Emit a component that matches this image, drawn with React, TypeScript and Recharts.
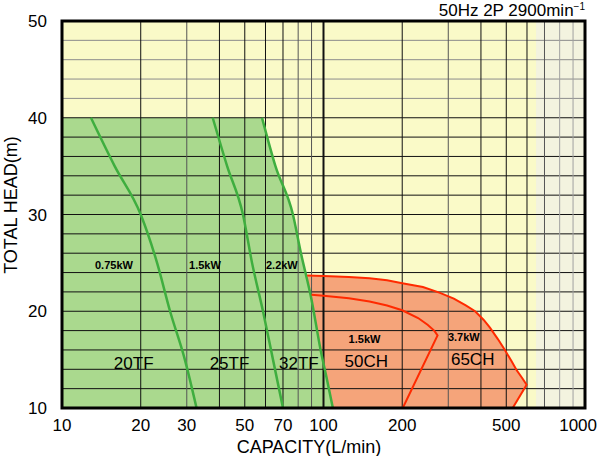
import { ComposedChart, Area, Line, XAxis, YAxis, CartesianGrid, ReferenceLine, ReferenceArea, ReferenceDot } from 'recharts'

const xTicks = [10, 20, 30, 50, 70, 100, 200, 500, 1000]
const yTicks = [10, 20, 30, 40, 50]

// grid lines (log paper)
const vGridDark = [20, 40, 50, 60, 70, 100, 200, 400, 500, 600]
const vGridMid = [30, 80, 90, 300, 700]
const vGridLight = [800, 900]
const hGridLower = [12, 14, 16, 18, 20, 22, 24, 26, 28, 30, 32, 34, 36, 38, 40]
const hGridUpper = [42, 44, 46, 48]

// TF series envelope (green) : top at 40 m, right edge = 32TF curve
const tfEnvelope = [
  { x: 10, y: 40 }, { x: 58.2, y: 40 }, { x: 65.5, y: 35 }, { x: 76.4, y: 30 },
  { x: 82, y: 26 }, { x: 90, y: 21.2 }, { x: 97.5, y: 16 }, { x: 103, y: 13 }, { x: 108.6, y: 10 },
]
const curve20TF = [
  { x: 12.9, y: 40 }, { x: 15.9, y: 35 }, { x: 20, y: 30 }, { x: 23.1, y: 25 },
  { x: 25.9, y: 20 }, { x: 29.5, y: 15 }, { x: 32.7, y: 10 },
]
const curve25TF = [
  { x: 37.7, y: 40 }, { x: 42.8, y: 35 }, { x: 49.2, y: 30 }, { x: 53.3, y: 25 },
  { x: 58.7, y: 20 }, { x: 64.1, y: 15 }, { x: 70, y: 10 },
]
const curve32TF = [
  { x: 58.2, y: 40 }, { x: 65.5, y: 35 }, { x: 76.4, y: 30 }, { x: 82, y: 26 },
  { x: 90, y: 21.2 }, { x: 97.5, y: 16 }, { x: 103, y: 13 }, { x: 108.6, y: 10 },
]

// CH series (orange): outer limit (65CH 3.7kW), inner limit (50CH 1.5kW)
const ch65Outer = [
  { x: 86.6, y: 23.7 }, { x: 100, y: 23.65 }, { x: 125, y: 23.55 }, { x: 150, y: 23.4 },
  { x: 175, y: 23.2 }, { x: 200, y: 22.9 }, { x: 240, y: 22.5 }, { x: 279, y: 21.9 },
  { x: 315, y: 21.3 }, { x: 350, y: 20.6 }, { x: 380, y: 20.0 }, { x: 410, y: 19.1 },
  { x: 433, y: 18.3 }, { x: 465, y: 17.1 }, { x: 494, y: 16.0 }, { x: 522, y: 14.9 },
  { x: 548, y: 13.9 }, { x: 575, y: 13.1 }, { x: 598, y: 12.4 }, { x: 529, y: 10 },
]
const ch50Inner = [
  { x: 90, y: 21.7 }, { x: 100, y: 21.6 }, { x: 125, y: 21.35 }, { x: 150, y: 21.0 },
  { x: 175, y: 20.6 }, { x: 200, y: 20.1 }, { x: 230, y: 19.3 }, { x: 250, y: 18.6 },
  { x: 265, y: 18.0 }, { x: 273, y: 17.5 }, { x: 201, y: 10 },
]

const powerLabels = [
  { x: 15.8, y: 24.8, text: '0.75kW' },
  { x: 35.2, y: 24.8, text: '1.5kW' },
  { x: 69.3, y: 24.8, text: '2.2kW' },
  { x: 143.5, y: 17.1, text: '1.5kW' },
  { x: 344, y: 17.3, text: '3.7kW' },
]
const modelLabels = [
  { x: 18.8, y: 14.7, text: '20TF' },
  { x: 43.7, y: 14.7, text: '25TF' },
  { x: 80.5, y: 14.7, text: '32TF' },
  { x: 145.8, y: 14.9, text: '50CH' },
  { x: 372, y: 15.05, text: '65CH' },
]

const GREEN_FILL = '#aad98e'
const GREEN_LINE = '#3fae3f'
const ORANGE_FILL = '#f5a47a'
const RED_LINE = '#ff2a00'

function XTick({ x, y, payload }: any) {
  const last = payload.value === 1000
  return (
    <text x={last ? x + 13 : x} y={y} dy="0.71em" textAnchor={last ? 'end' : 'middle'} fontSize={17} fill="#000">
      {payload.value}
    </text>
  )
}

export default function App() {
  return (
    <div style={{ position: 'absolute', left: 0, top: 0 }}>
      <ComposedChart width={600} height={456} margin={{ top: 21, right: 15, bottom: 18, left: 0 }}
        style={{ fontFamily: '"Liberation Sans", Arial, sans-serif', background: '#fff' }}>
        <CartesianGrid horizontal={false} vertical={false} fill="#fafac8" />
        <XAxis dataKey="x" type="number" scale="log" domain={[10, 1000]} ticks={xTicks} allowDataOverflow
          tick={<XTick />} tickLine={false} axisLine={false} tickMargin={5} height={30} />
        <YAxis type="number" domain={[10, 50]} ticks={yTicks} width={62} allowDataOverflow
          tick={{ fontSize: 17, fill: '#000' }} tickLine={false} axisLine={false} tickMargin={9} />

        <ReferenceArea x1={650} x2={1000} y1={10} y2={50} fill="#f3f3df" fillOpacity={1} stroke="none" />

        <Area data={ch65Outer} dataKey="y" type="linear" baseValue={10} fill={ORANGE_FILL} fillOpacity={1}
          stroke="none" isAnimationActive={false} />
        <Area data={tfEnvelope} dataKey="y" type="linear" baseValue={10} fill={GREEN_FILL} fillOpacity={1}
          stroke="none" isAnimationActive={false} />

        {hGridUpper.map(v => <ReferenceLine key={'hu' + v} y={v} stroke="#8c8c8c" strokeWidth={1} zIndex={300} />)}
        {hGridLower.map(v => <ReferenceLine key={'hl' + v} y={v} stroke="#111" strokeWidth={1} zIndex={300} />)}
        {vGridLight.map(v => <ReferenceLine key={'vl' + v} x={v} stroke="#a0a0a0" strokeWidth={1} zIndex={300} />)}
        {vGridMid.map(v => <ReferenceLine key={'vm' + v} x={v} stroke="#555" strokeWidth={1} zIndex={300} />)}
        {vGridDark.map(v => <ReferenceLine key={'vd' + v} x={v} stroke="#111" strokeWidth={v === 100 ? 2 : 1} zIndex={300} />)}

        <Line data={curve20TF} dataKey="y" type="monotone" stroke={GREEN_LINE} strokeWidth={2.5} dot={false} isAnimationActive={false} />
        <Line data={curve25TF} dataKey="y" type="monotone" stroke={GREEN_LINE} strokeWidth={2.5} dot={false} isAnimationActive={false} />
        <Line data={curve32TF} dataKey="y" type="monotone" stroke={GREEN_LINE} strokeWidth={2.5} dot={false} isAnimationActive={false} />
        <Line data={ch65Outer} dataKey="y" type="linear" stroke={RED_LINE} strokeWidth={2} dot={false} isAnimationActive={false} />
        <Line data={ch50Inner} dataKey="y" type="linear" stroke={RED_LINE} strokeWidth={2} dot={false} isAnimationActive={false} />

        <ReferenceArea x1={10} x2={1000} y1={10} y2={50} fill="none" stroke="#000" strokeWidth={3} zIndex={450} />

        {powerLabels.map((d, i) => (
          <ReferenceDot key={'p' + i} x={d.x} y={d.y} r={0} fill="none" stroke="none"
            label={{ value: d.text, position: 'center', fontSize: 11, fontWeight: 'bold', fill: '#000' }} />
        ))}
        {modelLabels.map((d, i) => (
          <ReferenceDot key={'m' + i} x={d.x} y={d.y} r={0} fill="none" stroke="none"
            label={{ value: d.text, position: 'center', fontSize: 17, fill: '#000' }} />
        ))}

        <text x={585} y={16} textAnchor="end" fontSize={17} fill="#000">
          50Hz 2P 2900min<tspan dy={-6} fontSize={10}>−1</tspan>
        </text>
        <text x={309} y={453} textAnchor="middle" fontSize={18} fill="#000">CAPACITY(L/min)</text>
        <text x={17} y={205} textAnchor="middle" fontSize={18} fill="#000" transform="rotate(-90 17 205)">TOTAL HEAD(m)</text>
      </ComposedChart>
    </div>
  )
}
